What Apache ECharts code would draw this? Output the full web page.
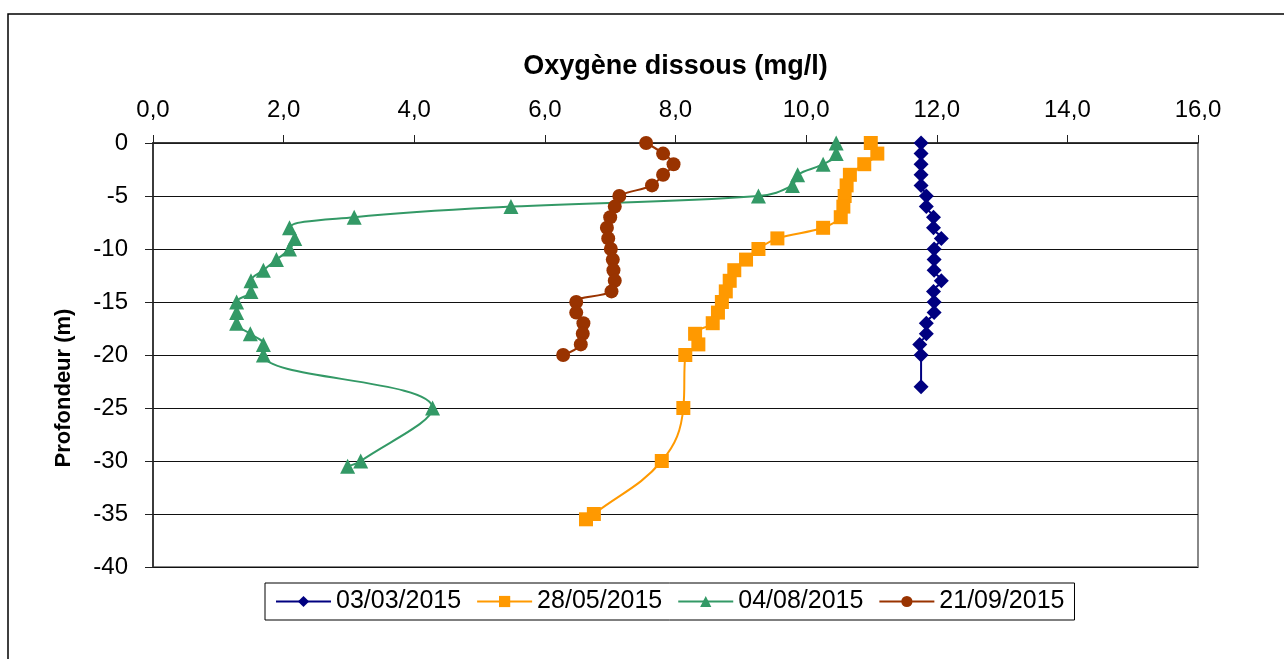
<!DOCTYPE html>
<html>
<head>
<meta charset="utf-8">
<script src="https://cdn.jsdelivr.net/npm/echarts@6/dist/echarts.min.js"></script>
<style>
html,body{margin:0;padding:0;background:#fff;}
#main{width:1284px;height:659px;}
</style>
</head>
<body>
<div id="main"></div>
<script>
// profondeurs (m)
var depthMars = [0,-1,-2,-3,-4,-5,-6,-7,-8,-9,-10,-11,-12,-13,-14,-15,-16,-17,-18,-19,-20,-23];
var depthMai = [0,-1,-2,-3,-4,-5,-6,-7,-8,-9,-10,-11,-12,-13,-14,-15,-16,-17,-18,-19,-20,-25,-30,-35,-35.5];
var depthAout = [0,-1,-2,-3,-4,-5,-6,-7,-8,-9,-10,-11,-12,-13,-14,-15,-16,-17,-18,-19,-20,-25,-30,-30.5];
var depthSept = [0,-1,-2,-3,-4,-5,-6,-7,-8,-9,-10,-11,-12,-13,-14,-15,-16,-17,-18,-19,-20];

// oxygene dissous (mg/l)
var oxyMars = [11.76,11.76,11.76,11.76,11.76,11.84,11.84,11.95,11.95,12.07,11.96,11.96,11.96,12.07,11.95,11.96,11.96,11.84,11.84,11.74,11.76,11.76];
var oxyMai = [10.99,11.09,10.89,10.67,10.62,10.59,10.57,10.53,10.26,9.56,9.27,9.08,8.90,8.83,8.77,8.71,8.65,8.57,8.30,8.35,8.15,8.12,7.79,6.75,6.63];
var oxyAout = [10.46,10.46,10.26,9.87,9.79,9.27,5.48,3.08,2.09,2.17,2.09,1.89,1.69,1.50,1.50,1.28,1.28,1.28,1.49,1.69,1.69,4.28,3.18,2.98];
var oxySept = [7.55,7.81,7.97,7.81,7.64,7.14,7.07,7.00,6.95,6.97,7.01,7.04,7.05,7.07,7.02,6.48,6.48,6.59,6.58,6.55,6.28];

var dates = ['03/03/2015','28/05/2015','04/08/2015','21/09/2015'];
var xTicks = [0,2,4,6,8,10,12,14,16];
var yTicks = [0,-5,-10,-15,-20,-25,-30,-35,-40];

var font = '"Liberation Sans", Arial, sans-serif';

function pairs(xs, ys){
	var out = [];
	for(var i=0;i<xs.length;i++){
		out.push([xs[i], ys[i]]);
	}
	return out;
}

function mkSerie(name, xs, ys, color, symbol, size){
	return {
		name: name,
		type: 'line',
		data: pairs(xs, ys),
		smooth: 0.4,
		symbol: symbol,
		symbolSize: size,
		lineStyle: {color: color, width: 2},
		itemStyle: {color: color},
		z: 3
	};
}

var myChart = echarts.init(document.getElementById('main'));
myChart.setOption({
	animation: false,
	textStyle: {fontFamily: font},
	grid: {
		left: 153, top: 143, right: 86, bottom: 92,
		show: true, borderColor: '#888', borderWidth: 2
	},
	legend: {
		data: dates,
		left: 265, top: 583,
		padding: [6, 10, 6, 10],
		borderColor: '#000', borderWidth: 1,
		itemWidth: 55, itemHeight: 14, itemGap: 15,
		textStyle: {fontSize: 25, color: '#000', fontFamily: font}
	},
	graphic: [{
		type: 'rect',
		shape: {x: 8, y: 14, width: 1320, height: 700},
		style: {fill: null, stroke: '#000', lineWidth: 1.5},
		silent: true
	}],
	xAxis: {
		type: 'value',
		position: 'top',
		min: xTicks[0], max: xTicks[xTicks.length-1], interval: 2,
		name: 'Oxygène dissous (mg/l)',
		nameLocation: 'middle', nameGap: 63,
		nameTextStyle: {fontSize: 27, fontWeight: 'bold', color: '#000', fontFamily: font},
		axisLine: {show: true, onZero: false, lineStyle: {color: '#222', width: 1.5}},
		axisTick: {show: true, inside: false, length: 8, lineStyle: {color: '#222'}},
		axisLabel: {
			fontSize: 24, color: '#000', margin: 21,
			formatter: function(v){ return v.toFixed(1).replace('.', ','); }
		},
		splitLine: {show: false}
	},
	yAxis: {
		type: 'value',
		min: yTicks[yTicks.length-1], max: yTicks[0], interval: 5,
		name: 'Profondeur (m)',
		nameLocation: 'middle', nameGap: 78,
		nameTextStyle: {fontSize: 22, fontWeight: 'bold', color: '#000', fontFamily: font, padding: [0, 66, 0, 0]},
		axisLine: {show: true, onZero: false, lineStyle: {color: '#222', width: 1.5}},
		axisTick: {show: true, inside: false, length: 8, lineStyle: {color: '#222'}},
		axisLabel: {fontSize: 24, color: '#000', margin: 25},
		splitLine: {show: true, lineStyle: {color: '#111', width: 1.2}}
	},
	series: [
		mkSerie(dates[0], oxyMars, depthMars, '#000080', 'diamond', 15),
		mkSerie(dates[1], oxyMai, depthMai, '#FF9900', 'rect', 14),
		mkSerie(dates[2], oxyAout, depthAout, '#339966', 'triangle', 15),
		mkSerie(dates[3], oxySept, depthSept, '#993300', 'circle', 14)
	]
});
</script>
</body>
</html>
